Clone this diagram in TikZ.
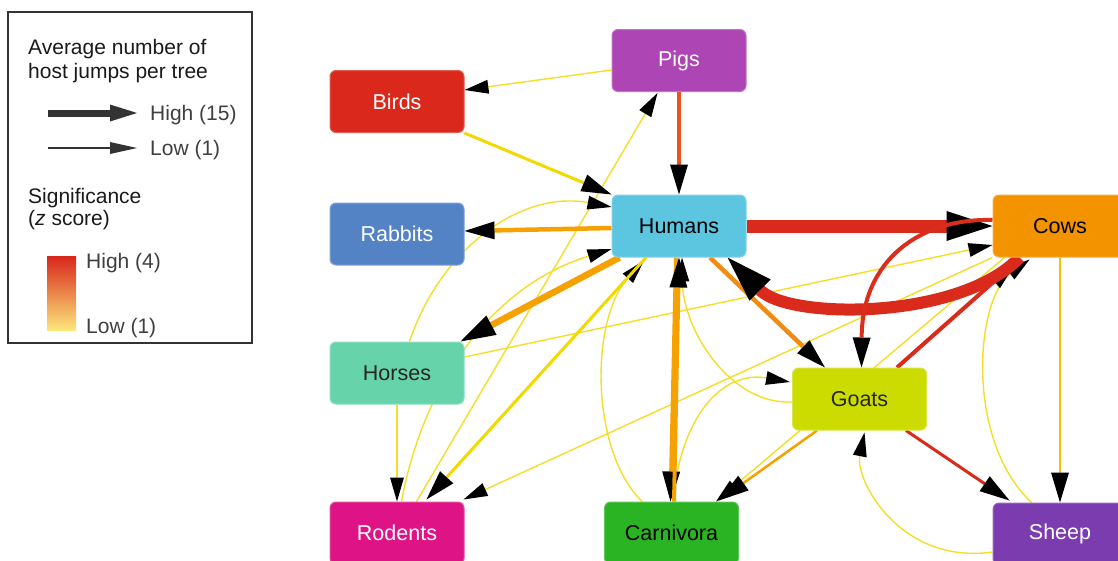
\documentclass[tikz,border=0pt]{standalone}
\usepackage{fontspec}
\setmainfont{Liberation Sans}
\usetikzlibrary{arrows.meta,calc}
\pgfdeclarelayer{back}
\pgfdeclarelayer{bg}
\pgfsetlayers{back,bg,main}
\definecolor{cpig}{HTML}{AD45B5}
\definecolor{cbird}{HTML}{DA291C}
\definecolor{chum}{HTML}{5CC5E0}
\definecolor{crab}{HTML}{5383C4}
\definecolor{ccow}{HTML}{F39300}
\definecolor{chor}{HTML}{67D3AB}
\definecolor{cgoat}{HTML}{CDDC00}
\definecolor{crod}{HTML}{DE1386}
\definecolor{ccar}{HTML}{2AB322}
\definecolor{cshp}{HTML}{7A3CAE}
\definecolor{ered}{HTML}{D92A1C}
\definecolor{eredor}{HTML}{E8531F}
\definecolor{eorg}{HTML}{F5A200}
\definecolor{eorgb}{HTML}{F08C12}
\definecolor{eyel}{HTML}{F2D900}
\definecolor{eyt}{HTML}{F4DE2A}
\definecolor{lgray}{HTML}{333333}
\definecolor{ltxt}{HTML}{1A1A1A}
\definecolor{lsub}{HTML}{3F3F3F}
\definecolor{gtop}{HTML}{D8261A}
\definecolor{gmid}{HTML}{F28A2C}
\definecolor{gbot}{HTML}{FDE67C}
\begin{document}
\begin{tikzpicture}[x=1pt,y=-1pt,
  box/.style={rectangle, rounded corners=6pt, minimum width=134pt, minimum height=62pt, inner sep=0pt, font=\fontsize{21.5}{25}\selectfont, line width=1pt},
  lgtext/.style={anchor=base west, inner sep=0pt, font=\fontsize{21}{25}\selectfont},
  hT/.style={-{Triangle[length=24pt,width=14pt,line width=0pt,color=black]}},
  hM/.style={-{Triangle[length=30pt,width=18pt,line width=0pt,color=black]}},
  hL/.style={-{Triangle[length=35pt,width=22pt,line width=0pt,color=black]}},
  hX/.style={-{Triangle[length=46pt,width=30pt,line width=0pt,color=black]}},
  yT/.style={draw=eyt, line width=1.4pt, hT},
  yM/.style={draw=eyel, line width=3pt, hM},
]
\useasboundingbox (0,0) rectangle (1118,560);
\begin{pgfonlayer}{back}
\fill[white] (0,0) rectangle (1118,560);
\end{pgfonlayer}

% legend
\draw[lgray, line width=1.5pt] (8,12) rectangle (252,343);
\node[lgtext, text=ltxt] (lg1) at (28,54) {Average number of};
\node[lgtext, text=ltxt] (lg2) at (28,78) {host jumps per tree};
\coordinate (la1) at (48,113);
\coordinate (la2) at (137,113);
\draw[lgray, line width=7pt, -{Triangle[length=27pt,width=17pt,line width=0pt]}] (la1) -- (la2);
\node[lgtext, text=lsub] (lg3) at (150,120) {High (15)};
\coordinate (lb1) at (48,148);
\coordinate (lb2) at (137,148);
\draw[lgray, line width=1.3pt, -{Triangle[length=27pt,width=12pt,line width=0pt]}] (lb1) -- (lb2);
\node[lgtext, text=lsub] (lg4) at (150,155) {Low (1)};
\node[lgtext, text=ltxt] (lg5) at (28,203) {Significance};
\node[lgtext, text=ltxt] (lg6) at (28,225) {(\textit{z} score)};
\shade[top color=gtop, middle color=gmid, bottom color=gbot] (47,256) rectangle (76,330);
\node[lgtext, text=lsub] (lg7) at (86,268) {High (4)};
\node[lgtext, text=lsub] (lg8) at (86,333) {Low (1)};

% nodes
\node[box, fill=cpig, draw=cpig!75!white, text=white] (pig) at (679,60.5) {Pigs};
\node[box, fill=cbird, draw=cbird!75!white, text=white] (bir) at (397,101.5) {Birds};
\node[box, fill=chum, draw=chum!75!white, text=black] (hum) at (679,226) {Humans};
\node[box, fill=crab, draw=crab!75!white, text=white] (rab) at (397,234) {Rabbits};
\node[box, fill=ccow, draw=ccow!75!white, text=black] (cow) at (1060,226) {Cows};
\node[box, fill=chor, draw=chor!75!white, text=black!85] (hor) at (397,373) {Horses};
\node[box, fill=cgoat, draw=cgoat!75!white, text=black!85] (gat) at (859.5,399) {Goats};
\node[box, fill=crod, draw=crod!75!white, text=white] (rod) at (397,533) {Rodents};
\node[box, fill=ccar, draw=ccar!75!white, text=black] (car) at (671.5,533) {Carnivora};
\node[box, fill=cshp, draw=cshp!75!white, text=white] (shp) at (1060,534) {Sheep};

\begin{pgfonlayer}{bg}
% thin yellow edges
\draw[yT] ($(pig.west)+(0,9.5)$) -- ($(bir.east)+(0,-11.5)$);
\draw[yT] ($(hor.east)+(0,-16)$) -- ($(cow.west)+(0,19)$);
\draw[yT] (cow.south west) -- ($(rod.north east)+(-1,-2)$);
\draw[yT] ($(rod.north west)+(87,0)$) -- ($(pig.south west)+(46,1)$);
\draw[yT] (hor.south) -- (rod.north);
\draw[yT] ($(hor.north west)+(80,0)$) .. controls (440,250) and (520,190) .. ($(hum.west)+(0,-19)$);
\draw[yT] ($(rod.north west)+(72,0)$) .. controls (420,400) and (480,290) .. ($(hum.west)+(0,23)$);
\draw[yT] ($(car.north west)+(38,0)$) .. controls (590,450) and (590,320) .. ($(hum.south)+(-35,3)$);
\draw[yT] ($(gat.west)+(0,3)$) .. controls (730,405) and (683,330) .. ($(hum.south)+(3,0)$);
\draw[yT] ($(car.north)+(1.5,0)$) .. controls (680,420) and (720,370) .. ($(gat.west)+(-2,-17)$);
\draw[yT] ($(shp.north west)+(39,0)$) .. controls (965,440) and (975,300) .. ($(cow.south west)+(37,2)$);
\draw[yT] ($(shp.west)+(0,18)$) .. controls (900,565) and (855,480) .. ($(gat.south)+(5,2)$);
\draw[yT] ($(cow.south west)+(12,0)$) -- ($(car.north east)+(-23,0)$);
% medium edges
\draw[yM] (bir.south east) -- (hum.north west);
\draw[yM] ($(hum.south)+(-33,0)$) -- ($(rod.north west)+(97,-2)$);
\draw[draw=eyel!60!eorg, line width=2.5pt, hM] (cow.south) -- (shp.north);
\draw[draw=eorg, line width=2.5pt, hM] ($(gat.south west)+(25,0)$) -- ($(car.north east)+(-20,-1)$);
\draw[draw=eredor, line width=4pt, hM] (pig.south) -- (hum.north);
\draw[draw=eorg, line width=4.5pt, hM] ($(hum.west)+(0,2)$) -- ($(rab.east)+(0,-3)$);
\draw[draw=eorgb, line width=4.5pt, hM] ($(hum.south)+(31,0)$) -- ($(gat.north west)+(33,0)$);
\draw[draw=eorg, line width=4pt, hM] ($(hum.south)+(-3,0)$) -- ($(car.north)+(-1,0)$);
\draw[draw=eorg, line width=4pt, hM] ($(car.north)+(2.5,0)$) -- (hum.south);
\draw[draw=eorg, line width=6.5pt, hL] ($(hum.south west)+(8,0)$) -- ($(hor.north east)+(-4,0)$);
\draw[draw=ered, line width=3pt, hM] ($(gat.south east)+(-21,0)$) -- ($(shp.north west)+(17,-2)$);
\draw[draw=ered, line width=4pt, hM] ($(gat.north east)+(-30,0)$) -- ($(cow.south west)+(24,4)$);
% thick red edges
\draw[draw=ered, line width=13pt, hX] (hum.east) -- (cow.west);
\draw[draw=ered, line width=12pt, hX] ($(cow.south west)+(27,0)$) .. controls (960,320) and (790,320) .. ($(hum.south east)+(-19,0)$);
\draw[draw=ered!90!eredor, line width=4pt, hM] ($(cow.west)+(0,-6)$) .. controls (920,218) and (862,260) .. ($(gat.north)+(2,0)$);
\end{pgfonlayer}
\end{tikzpicture}
\end{document}
